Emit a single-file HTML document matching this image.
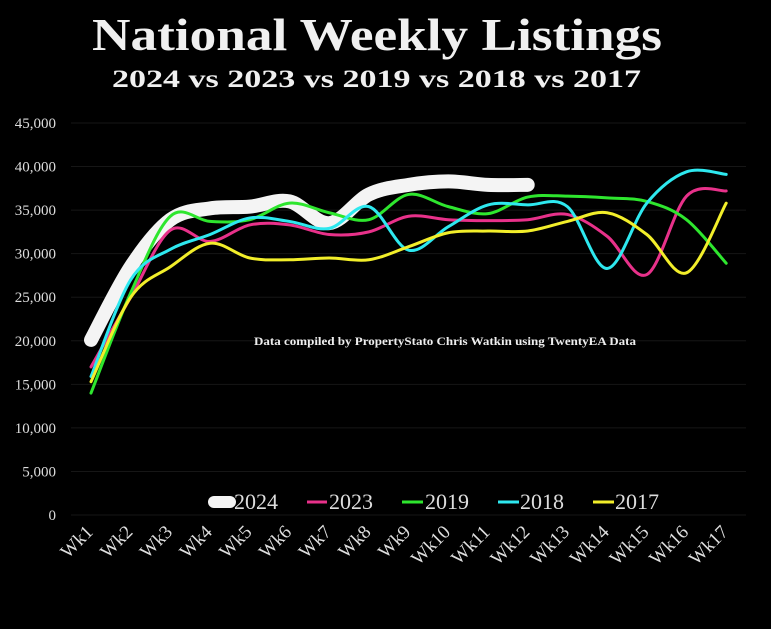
<!DOCTYPE html>
<html><head><meta charset="utf-8"><style>
html,body{margin:0;padding:0;background:#000;width:771px;height:629px;overflow:hidden}
svg{display:block}
text{font-family:"Liberation Serif",serif}
</style></head><body>
<svg id="s" width="771" height="629" xmlns="http://www.w3.org/2000/svg">
<rect width="771" height="629" fill="#000"/>
<text x="92" y="50" font-size="46" font-weight="bold" fill="#f0f0f0" textLength="570" lengthAdjust="spacingAndGlyphs">National Weekly Listings</text>
<text x="112" y="87" font-size="25" font-weight="bold" fill="#f0f0f0" textLength="529" lengthAdjust="spacingAndGlyphs">2024 vs 2023 vs 2019 vs 2018 vs 2017</text>
<g id="grid"></g>
<text x="254" y="345" font-size="11.5" font-weight="bold" fill="#eee" textLength="382" lengthAdjust="spacingAndGlyphs">Data compiled by PropertyStato Chris Watkin using TwentyEA Data</text>
<g id="lines" fill="none" stroke-linecap="round" stroke-linejoin="round"></g>
<g font-size="22" fill="#ddd">
<line x1="214" y1="502" x2="230" y2="502" stroke="#f4f4f4" stroke-width="12" stroke-linecap="round"/>
<text x="234" y="509">2024</text>
<line x1="307" y1="502" x2="327" y2="502" stroke="#e8318a" stroke-width="3"/>
<text x="329" y="509">2023</text>
<line x1="402" y1="502" x2="423" y2="502" stroke="#2ee62e" stroke-width="3"/>
<text x="425" y="509">2019</text>
<line x1="498" y1="502" x2="519" y2="502" stroke="#2ee8ef" stroke-width="3"/>
<text x="520" y="509">2018</text>
<line x1="593" y1="502" x2="614" y2="502" stroke="#f2ee2a" stroke-width="3"/>
<text x="615" y="509">2017</text>
</g>
</svg>
<script>
function Y(v){return 515-v*392/45000;}
function X(i){return 91+i*39.7;}
var g=document.getElementById('grid'),h='';
for(var k=0;k<=9;k++){var v=k*5000,y=Y(v);
h+='<line x1="71" x2="746" y1="'+y+'" y2="'+y+'" stroke="#161616" stroke-width="1"/>';
h+='<text x="56" y="'+(y+5)+'" text-anchor="end" font-size="15" fill="#ddd">'+(v?v.toLocaleString('en-US'):'0')+'</text>';}
for(var i=0;i<17;i++){var x=X(i)+3,y=533;
h+='<text transform="translate('+x+','+y+') rotate(-45)" text-anchor="end" font-size="19" fill="#ddd">Wk'+(i+1)+'</text>';}
g.innerHTML=h;
var S=[
["#f4f4f4",14,[20100,28500,33900,35200,35400,36000,33500,36800,37900,38300,37900,37900]],
["#e8318a",3,[17000,25000,32700,31400,33300,33300,32200,32500,34300,33900,33800,33900,34500,32000,27600,36600,37200]],
["#2ee62e",3,[14000,25500,34300,33700,33900,35800,34700,33900,36800,35400,34600,36500,36600,36400,36000,33900,28900]],
["#2ee8ef",3,[15900,27000,30500,32200,34100,33700,32900,35400,30400,33100,35600,35600,35400,28300,35800,39400,39100]],
["#f2ee2a",3,[15300,25000,28500,31200,29500,29300,29500,29300,30800,32400,32600,32600,33700,34700,32200,27800,35800]]];
var L=document.getElementById('lines'),o='';
S.forEach(function(s){var p=s[2].map(function(v,i){return [X(i),Y(v)];});
var d='M'+p[0][0]+','+p[0][1];
for(var i=0;i<p.length-1;i++){var p0=p[i-1]||p[i],p1=p[i],p2=p[i+1],p3=p[i+2]||p2;
d+=' C'+(p1[0]+(p2[0]-p0[0])/6)+','+(p1[1]+(p2[1]-p0[1])/6)+' '+(p2[0]-(p3[0]-p1[0])/6)+','+(p2[1]-(p3[1]-p1[1])/6)+' '+p2[0]+','+p2[1];}
o+='<path d="'+d+'" stroke="'+s[0]+'" stroke-width="'+s[1]+'"/>';});
L.innerHTML=o;
</script>
</body></html>
